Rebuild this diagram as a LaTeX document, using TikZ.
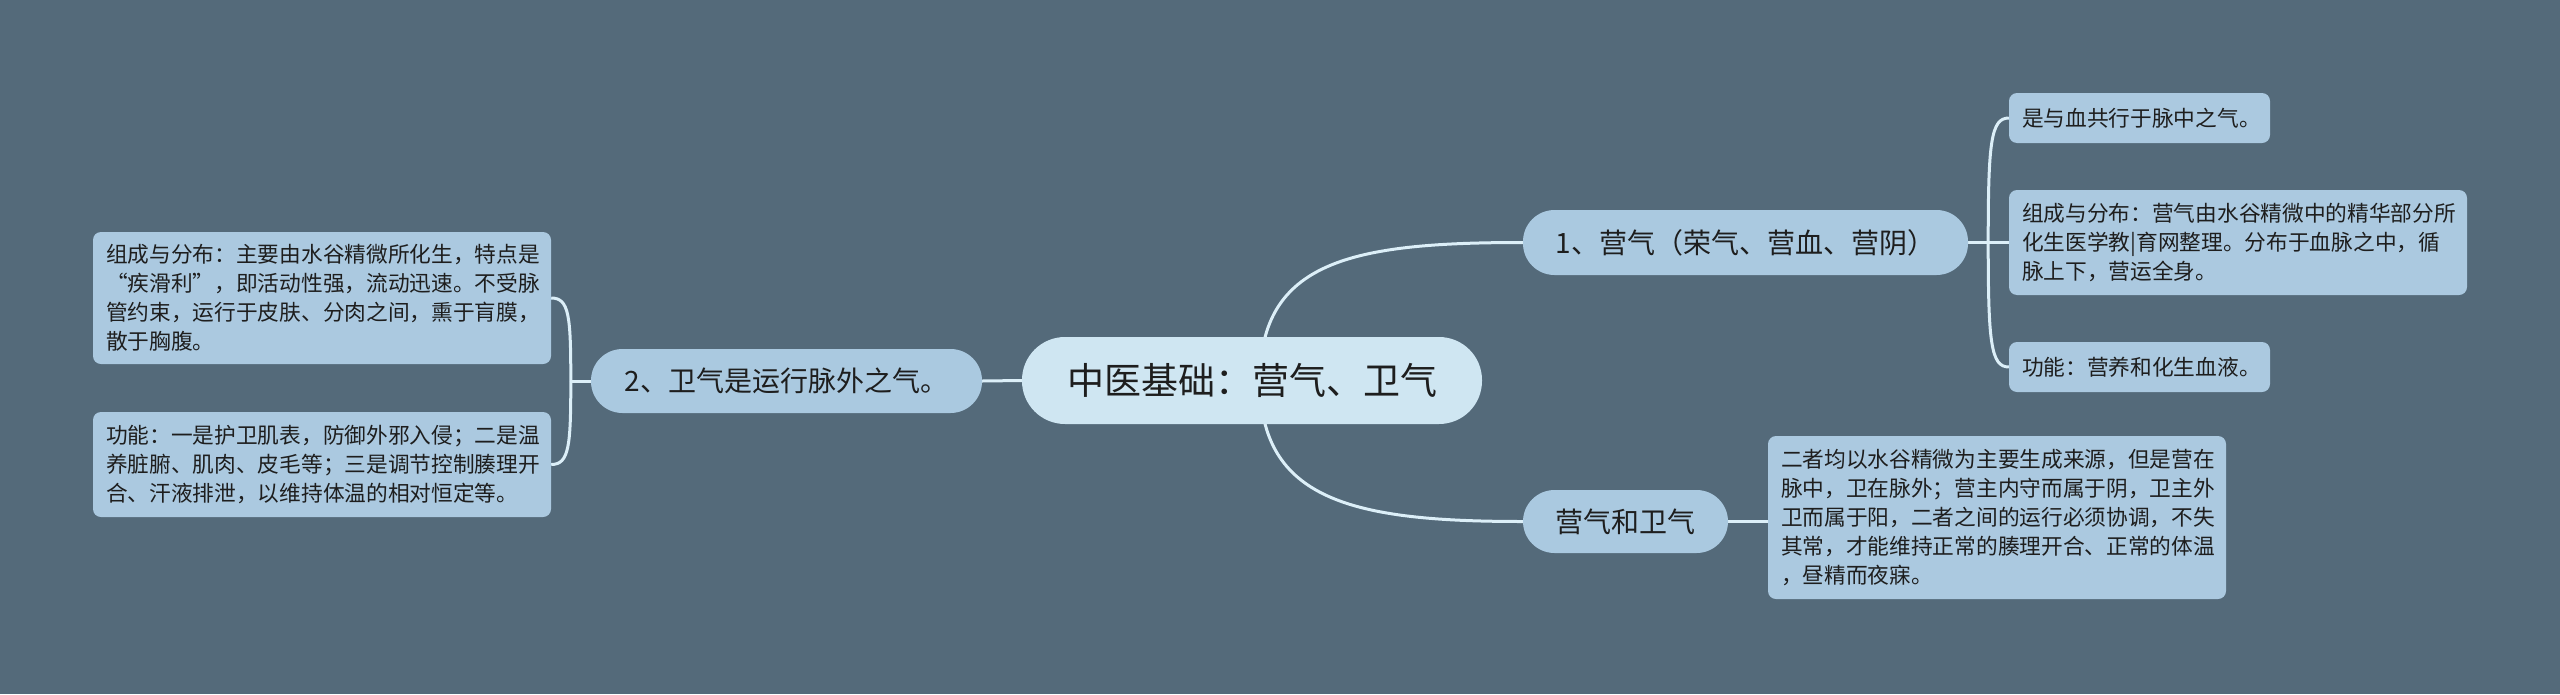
\documentclass[tikz,border=0pt]{standalone}
\usepackage{fontspec}
\setmainfont{Noto Sans CJK SC}
\usetikzlibrary{calc,backgrounds}
\definecolor{bg}{HTML}{546A7A}
\definecolor{mainfill}{HTML}{CFE6F2}
\definecolor{subfill}{HTML}{AAC9E0}
\definecolor{leaffill}{HTML}{ABC9E0}
\definecolor{linec}{HTML}{DCEFF8}
\definecolor{txt}{HTML}{1E1E1E}
\begin{document}
\begin{tikzpicture}[x=1pt,y=-1pt,
  mainnode/.style={fill=mainfill, rounded corners=43pt, minimum width=460pt, minimum height=87pt, inner sep=0pt, text=txt, font=\fontsize{37}{44}\selectfont},
  subnode/.style={fill=subfill, rounded corners=31.5pt, minimum height=64pt, inner sep=0pt, text=txt, font=\fontsize{28}{34}\selectfont},
  leaf/.style={fill=leaffill, rounded corners=8pt, inner xsep=13pt, inner ysep=0pt, align=left, text=txt, font=\fontsize{21.7}{29}\selectfont},
  conn/.style={draw=linec, line width=3pt}]
\useasboundingbox (0,0) rectangle (2560,694);

\node[mainnode] (c) at (1252,380.5) {中医基础：营气、卫气};
\node[subnode, minimum width=391pt] (n2) at (786.5,381) {2、卫气是运行脉外之气。};
\node[subnode, minimum width=445pt, minimum height=65pt] (n1) at (1745.5,242.5) {1、营气（荣气、营血、营阴）};
\node[subnode, minimum width=205pt, minimum height=63pt] (n3) at (1625.5,521.5) {营气和卫气};

\node[leaf, text width=432pt, minimum height=132pt] (l1) at (322,298) {组成与分布：主要由水谷精微所化生，特点是\\“疾滑利”，即活动性强，流动迅速。不受脉\\管约束，运行于皮肤、分肉之间，熏于肓膜，\\散于胸腹。};
\node[leaf, text width=432pt, minimum height=105pt] (l2) at (322,464.5) {功能：一是护卫肌表，防御外邪入侵；二是温\\养脏腑、肌肉、皮毛等；三是调节控制腠理开\\合、汗液排泄，以维持体温的相对恒定等。};
\node[leaf, text width=235pt, minimum height=50pt] (r1) at (2139.5,118) {是与血共行于脉中之气。};
\node[leaf, text width=432pt, minimum height=105pt] (r2) at (2238,242.5) {组成与分布：营气由水谷精微中的精华部分所\\化生医学教|育网整理。分布于血脉之中，循\\脉上下，营运全身。};
\node[leaf, text width=235pt, minimum height=50pt] (r3) at (2139.5,367) {功能：营养和化生血液。};
\node[leaf, text width=432pt, minimum height=163pt] (r4) at (1997,517.5) {二者均以水谷精微为主要生成来源，但是营在\\脉中，卫在脉外；营主内守而属于阴，卫主外\\卫而属于阳，二者之间的运行必须协调，不失\\其常，才能维持正常的腠理开合、正常的体温\\，昼精而夜寐。};

\coordinate (b1) at ($(n1.east)+(20,0)$);
\coordinate (b2) at ($(n2.west)+(-20,0)$);

\begin{scope}[on background layer]
\fill[bg] (0,0) rectangle (2560,694);
\draw[conn] ($(c.center)+(8,0)$) .. controls ($(c.center)+(8,-120)$) and ($(n1.west)+(-170,0)$) .. (n1.west);
\draw[conn] ($(c.center)+(8,0)$) .. controls ($(c.center)+(8,120)$) and ($(n3.west)+(-170,0)$) .. (n3.west);
\draw[conn] (c.west) -- (n2.east);
\draw[conn] (n3.east) -- (n3.east -| r4.west);
\draw[conn] (n1.east) -- (r2.west);
\draw[conn] (b1) .. controls ($(b1)+(0,-100)$) and ($(r1.west)+(-18,0)$) .. (r1.west);
\draw[conn] (b1) .. controls ($(b1)+(0,100)$) and ($(r3.west)+(-18,0)$) .. (r3.west);
\draw[conn] (n2.west) -- (b2);
\draw[conn] (b2) .. controls ($(b2)+(0,-65)$) and ($(l1.east)+(18,0)$) .. (l1.east);
\draw[conn] (b2) .. controls ($(b2)+(0,65)$) and ($(l2.east)+(18,0)$) .. (l2.east);
\end{scope}
\end{tikzpicture}
\end{document}
